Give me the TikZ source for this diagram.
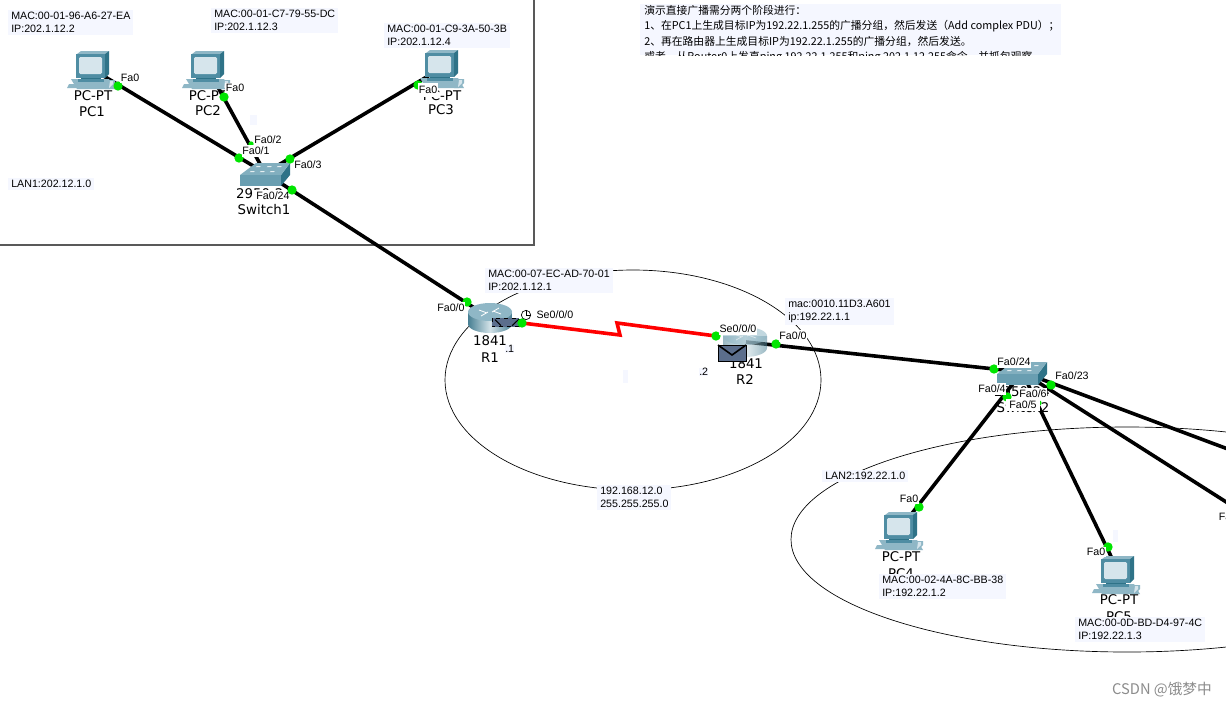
\documentclass[tikz,border=0pt]{standalone}
\usepackage{fontspec}
\setmainfont{Liberation Sans}
\newfontfamily\cjk{Noto Sans CJK SC}
\newfontfamily\dvfont{DejaVu Sans}
\definecolor{notebg}{HTML}{F5F7FF}
\definecolor{teal1}{HTML}{4F8DA3}
\definecolor{teal2}{HTML}{2F7388}
\definecolor{teal3}{HTML}{8FB7C6}
\definecolor{screenc}{HTML}{D6E5EC}
\definecolor{env}{HTML}{5B6E8C}
\tikzset{
  note/.style={fill=notebg,inner xsep=2.25pt,inner ysep=1.4pt,align=left,anchor=north west,font=\fontsize{8}{9.75}\selectfont},
  port/.style={fill=white,inner xsep=0.5pt,inner ysep=1.2pt,font=\fontsize{8}{9}\selectfont},
  dev/.style={inner sep=0pt,font=\dvfont\fontsize{10}{11}\selectfont},
  dot/.style={circle,fill=green!90!black,inner sep=0pt,minimum size=7pt},
  smalldot/.style={circle,fill=green!90!black,inner sep=0pt,minimum size=4pt},
  link/.style={line width=2.7pt,black},
  serial/.style={line width=2.7pt,red,line join=miter},
  ring/.style={draw=black,line width=0.5pt},
  pcicon/.pic={
    \fill[teal3] (-20,11) -- (18,11) -- (24,21) -- (-14,21) -- cycle;
    \fill[teal3] (-22,16) -- (12,16) -- (10,20) -- (-24,20) -- cycle;
    \fill[teal2] (-10,8) rectangle (10,11);
    \fill[teal1] (-13,11) rectangle (13,14);
    \fill[teal3] (16,12) -- (24,12) -- (24,16) -- (19,21) -- (14,21) -- cycle;
    \fill[screenc] (19,13) -- (22,13) -- (22,16) -- (18,20) -- cycle;
    \fill[teal3] (-14,-14) -- (14,-14) -- (18,-17) -- (-10,-17) -- cycle;
    \fill[teal2] (14,-14) -- (18,-17) -- (18,6) -- (14,10) -- cycle;
    \fill[teal1] (-15,-14) rectangle (14,10);
    \fill[screenc,rounded corners=1pt] (-12,-11) rectangle (11,6);
  },
  switchicon/.pic={
    \fill[teal2] (16,2) -- (25,-10) -- (25,2) -- (16,13) -- cycle;
    \fill[teal3!80!teal1] (-25,2) -- (-9,-10) -- (25,-10) -- (16,2) -- cycle;
    \fill[teal1!85!white] (-25,2) rectangle (16,13);
    \foreach \a/\b in {-14/-2,-4/-2,6/-2,-8/-7,3/-7,13/-7}
      \fill[white!85!teal1] (\a,\b) -- ++(4,0) -- ++(-1.5,1.2) -- ++(-4,0) -- cycle;
  },
  routericon/.pic={
    \shade[left color=teal1!90!black,right color=teal1!90!black,middle color=white!75!teal1]
      (-22,-6) -- (-22,6) arc[start angle=180,end angle=0,x radius=22,y radius=9] -- (22,-6) -- cycle;
    \fill[teal3] (0,-6) ellipse[x radius=22,y radius=9];
    \draw[white,line width=0.6pt] (-11,-8) -- (-3,-5) (11,-4) -- (3,-7) (-9,-2) -- (-2,-6) (9,-10) -- (2,-6);
  },
  mailicon/.pic={
    \fill[env] (0,0) rectangle (28,16);
    \draw[black,line width=0.7pt] (0,0) rectangle (28,16);
    \draw[black,line width=1.2pt] (0,0) -- (14,10) -- (28,0);
  },
}
\begin{document}
\begin{tikzpicture}[x=0.75pt,y=-0.75pt]
\useasboundingbox (0,0) rectangle (1226,707);
\clip (0,0) rectangle (1226,707);
\fill[white] (0,0) rectangle (1226,707);

% LAN1 frame
\draw[draw=black!65,line width=1pt] (-5,245) -- (534,245) -- (534,-5);

% rings
\draw[ring] (633,380) ellipse[x radius=188,y radius=110];
\draw[ring] (1127,539.5) ellipse[x radius=336,y radius=112.5];

% faint empty notes
\fill[notebg] (250,115) rectangle (257,125);
\fill[notebg] (623,370) rectangle (628,383);
\fill[notebg] (1113,530) rectangle (1118,542);

% device anchors
\coordinate (pc1) at (92,69);
\coordinate (pc2) at (208,69);
\coordinate (pc3) at (440,69);
\coordinate (sw1) at (265,173);
\coordinate (r1) at (490,318);
\coordinate (r2) at (746,342);
\coordinate (sw2) at (1022,372);
\coordinate (pc4) at (899,530);
\coordinate (pc5) at (1120,575);
\coordinate (farA) at (1300,549);
\coordinate (farB) at (1300,476);
\coordinate (se1) at (522,323);
\coordinate (se2) at (716,336);

% links
\draw[link] (pc1) -- (sw1);
\draw[link] (pc2) -- (sw1);
\draw[link] (pc3) -- (sw1);
\draw[link] (sw1) -- (r1);
\draw[link] (r2) -- (sw2);
\draw[link] (sw2) -- (pc4);
\draw[link] (sw2) -- (pc5);
\draw[link] (sw2) -- (farA);
\draw[link] (sw2) -- (farB);
\draw[serial] (se1) -- (620,335) -- (617,323) -- (se2);

% icons
\pic at (91,68) {pcicon};
\pic at (206,68) {pcicon};
\pic at (440,67) {pcicon};
\pic at (899,529) {pcicon};
\pic at (1116,573) {pcicon};
\pic at (265,173) {switchicon};
\pic at (1022,372) {switchicon};
\pic at (490,318) {routericon};
\begin{scope}[opacity=0.55]
\pic at (745,342) {routericon};
\end{scope}

% device labels
\node[dev] (l1a) at (93,96) {PC-PT};
\node[dev] (l1b) at (92,112) {PC1};
\node[dev] (l2a) at (208,96) {PC-PT};
\node[dev] (l2b) at (208,111) {PC2};
\node[dev] (l3a) at (442,96) {PC-PT};
\node[dev] (l3b) at (441,110) {PC3};
\node[dev] (l4a) at (901,557) {PC-PT};
\node[dev] (l4b) at (901,574) {PC4};
\node[dev] (l5a) at (1119,600) {PC-PT};
\node[dev] (l5b) at (1119,617) {PC5};
\node[dev] (ls1a) at (264,194) {2950-24};
\node[dev] (ls1b) at (264,210) {Switch1};
\node[dev] (ls2a) at (1022,392) {2950-24};
\node[dev] (ls2b) at (1023,408) {Switch2};
\node[dev] (lr1a) at (490,341) {1841};
\node[dev] (lr1b) at (490,358) {R1};
\node[dev] (lr2a) at (746,364) {1841};
\node[dev] (lr2b) at (745,380) {R2};

% mail
\begin{scope}[shift={(492,318)},yscale=0.55]
\fill[env] (0,0) rectangle (27,16);
\draw[black,line width=0.7pt,dashed] (0,0) rectangle (27,16);
\draw[black,line width=0.8pt] (3,3) -- (9,14) (20,14) -- (27,2);
\end{scope}
\pic at (718,345) {mailicon};

% clock
\node[circle,draw=black,fill=white,line width=0.5pt,inner sep=0pt,minimum size=7pt] (clk) at (526,315) {};
\draw[line width=0.4pt] (clk.center) -- (clk.north) (clk.center) -- (clk.east);

% dots
\node[dot] (d1) at (118,86) {};
\node[dot] (d2) at (224,97) {};
\node[dot] (d3) at (418,85) {};
\node[dot] (d4) at (239,158) {};
\node[smalldot] (d5) at (251,144) {};
\node[dot] (d6) at (290,159) {};
\node[dot] (d8) at (467,302) {};
\node[dot] (d9) at (522,323) {};
\node[dot] (d10) at (716,336) {};
\node[dot] (d11) at (776,344) {};
\node[dot] (d12) at (994,369) {};
\node[dot] (d13) at (1007,397) {};
\node[smalldot] (d14) at (1039,403) {};
\node[dot] (d15) at (1051,385) {};
\node[dot] (d16) at (919,507) {};
\node[dot] (d17) at (1108,547) {};

% port labels
\node[port] (p1) at (130,78) {Fa0};
\node[port] (p2) at (235,88) {Fa0};
\node[port,inner ysep=2.2pt] (p3) at (428,90) {Fa0};
\node[port] (p4) at (268,140) {Fa0/2};
\node[port] (p5) at (256,151) {Fa0/1};
\node[port] (p6) at (308,165) {Fa0/3};
\node[port,minimum width=28pt] (p7) at (273,196) {Fa0/24};
\node[dot] (d7) at (292,190) {};
\node[port] (p8) at (451,308) {Fa0/0};
\node[port,fill=none] (p9) at (555,315) {Se0/0/0};
\node[port] (p10) at (738,329) {Se0/0/0};
\node[port] (p11) at (793,336) {Fa0/0};
\node[port] (p12) at (1014,362) {Fa0/24};
\node[port,fill=none] (p13) at (1072,376) {Fa0/23};
\node[port] (p14) at (992,389) {Fa0/4};
\node[port] (p15) at (1033,394) {Fa0/6};
\node[port,minimum width=26pt] (p16) at (1023,405) {Fa0/5};
\node[port] (p17) at (909,499) {Fa0};
\node[port] (p18) at (1096,552) {Fa0};
\node[port,anchor=west] (p19) at (1218,517) {Fa0};

% notes
\node[note] (n1) at (8,10) {MAC:00-01-96-A6-27-EA\\IP:202.1.12.2};
\node[note] (n2) at (211,8) {MAC:00-01-C7-79-55-DC\\IP:202.1.12.3};
\node[note] (n3) at (384,23) {MAC:00-01-C9-3A-50-3B\\IP:202.1.12.4};
\node[note] (n4) at (8,178) {LAN1:202.12.1.0};
\node[note] (n5) at (485,268) {MAC:00-07-EC-AD-70-01\\IP:202.1.12.1};
\node[note] (n6) at (785,298) {mac:0010.11D3.A601\qquad\\ip:192.22.1.1};
\node[note] (n7) at (597,485) {192.168.12.0\\255.255.255.0};
\node[note] (n8) at (822,470) {LAN2:192.22.1.0};
\node[note] (n9) at (879,574) {MAC:00-02-4A-8C-BB-38\\IP:192.22.1.2};
\node[note] (n10) at (1075,617) {MAC:00-0D-BD-D4-97-4C\\IP:192.22.1.3};
\node[note,inner sep=0pt] (n11) at (505,345) {.1};
\node[note,inner sep=0pt] (n12) at (699,368) {.2};

% instruction text, cut off at the bottom of its box
\fill[notebg] (640,4) rectangle (1061,55);
\begin{scope}
\clip (640,4) rectangle (1061,55);
\node[anchor=north west,inner sep=0pt,align=left,font=\cjk\fontsize{8.1}{11.6}\selectfont] (n13) at (644,5) {演示直接广播需分两个阶段进行：\\1、在PC1上生成目标IP为192.22.1.255的广播分组，然后发送（Add complex PDU）；\\2、再在路由器上生成目标IP为192.22.1.255的广播分组，然后发送。\\或者，从Router0上发直ping 192.22.1.255和ping 202.1.12.255命令，并抓包观察};
\end{scope}

% watermark
\node[anchor=east,inner sep=0pt,text=black!45,font=\cjk\fontsize{11}{13}\selectfont] (wm) at (1212,690) {CSDN @饿梦中};
\end{tikzpicture}
\end{document}
